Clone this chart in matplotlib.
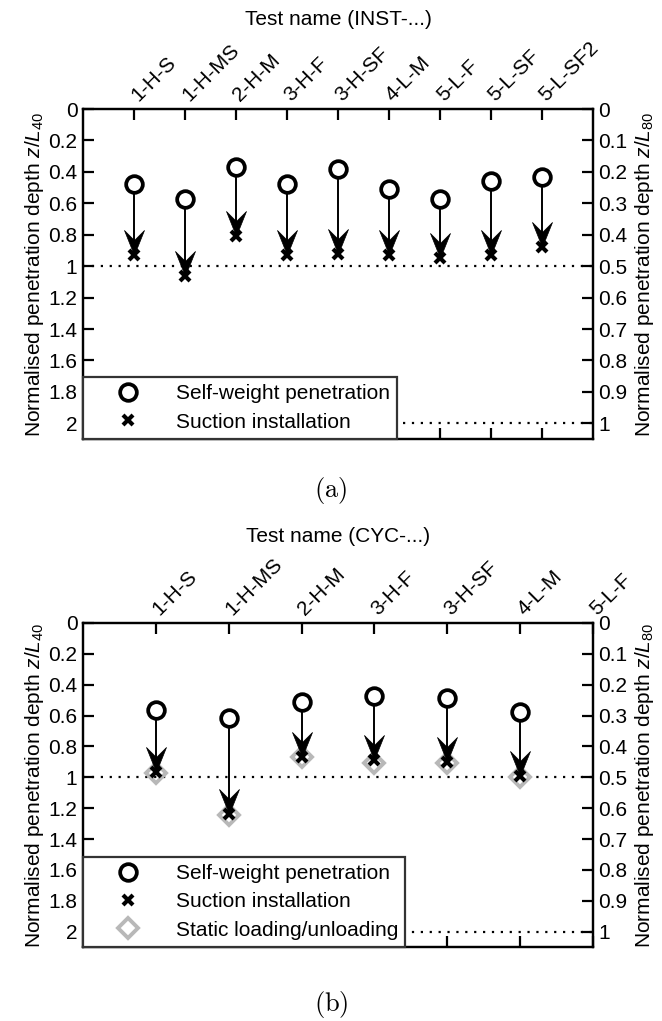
import matplotlib
matplotlib.use('Agg')
import matplotlib.pyplot as plt
import numpy as np
from matplotlib.path import Path
from matplotlib.lines import Line2D
from matplotlib.ticker import FormatStrFormatter

plt.rcParams['font.family'] = ['Liberation Sans', 'DejaVu Sans']
plt.rcParams['mathtext.fontset'] = 'custom'
plt.rcParams['mathtext.rm'] = 'Liberation Sans'
plt.rcParams['mathtext.it'] = 'Liberation Sans:italic'
plt.rcParams['font.size'] = 15

# (a) installation tests
tests_a = ['1-H-S', '1-H-MS', '2-H-M', '3-H-F', '3-H-SF', '4-L-M', '5-L-F', '5-L-SF', '5-L-SF2']
selfweight_a = [0.48, 0.57, 0.37, 0.48, 0.38, 0.51, 0.57, 0.46, 0.43]
suction_a = [0.93, 1.06, 0.81, 0.93, 0.92, 0.93, 0.95, 0.93, 0.88]

# (b) cyclic tests (5-L-F has no data)
tests_b = ['1-H-S', '1-H-MS', '2-H-M', '3-H-F', '3-H-SF', '4-L-M', '5-L-F']
selfweight_b = [0.565, 0.615, 0.515, 0.475, 0.485, 0.575]
suction_b = [0.965, 1.24, 0.87, 0.89, 0.90, 0.99]
static_b = [0.97, 1.245, 0.87, 0.905, 0.91, 1.0]

# stealth arrow head, tip at origin
head = Path([(0, 0), (-0.4, 1.0), (0, 0.6), (0.4, 1.0), (0, 0)],
            [Path.MOVETO, Path.LINETO, Path.LINETO, Path.LINETO, Path.CLOSEPOLY])

grey = '#b8b8b8'


def draw_panel(ax, tests, sw, suc, static, title):
    n = len(tests)
    xs = np.arange(1, n + 1)
    ax.set_xlim(0, n + 1 if n == 9 else n)
    ax.set_ylim(2.1, 0)

    ax.axhline(1, color='k', lw=1.6, ls=(0, (1, 3)), zorder=1)
    ax.axhline(2, color='k', lw=1.6, ls=(0, (1, 3)), zorder=1)

    for i in range(len(sw)):
        x = xs[i]
        if static is not None:
            ax.plot(x, static[i], marker='D', ms=10, mfc='none', mec=grey, mew=2.8, zorder=2)
        ax.plot([x, x], [sw[i], suc[i]], color='k', lw=1.4, zorder=3)
        ax.plot(x, suc[i], marker='x', ms=7, mec='k', mew=3, zorder=3)
        ax.plot(x, suc[i], marker=head, ms=36, mfc='k', mec='k', mew=0.5, zorder=4)
        ax.plot(x, sw[i], marker='o', ms=12, mfc='white', mec='k', mew=2.7, zorder=5)

    ax.set_yticks(np.arange(0, 2.01, 0.2))
    ax.yaxis.set_major_formatter(FormatStrFormatter('%g'))
    ax.set_xticks(xs)
    ax.set_xticklabels(tests, rotation=45, ha='left', va='center', rotation_mode='anchor')
    ax.xaxis.set_label_position('top')
    ax.set_xlabel(title, labelpad=9)
    ax.tick_params(axis='x', direction='in', top=True, bottom=True, labeltop=True,
                   labelbottom=False, length=8, width=1.6, pad=8)
    ax.tick_params(axis='y', direction='in', left=True, right=False, length=8, width=1.6, pad=4)
    ax.set_ylabel(r'Normalised penetration depth $\mathit{z/L_{40}}$', labelpad=2)
    for s in ax.spines.values():
        s.set_linewidth(1.6)

    ax2 = ax.twinx()
    ax2.set_ylim(1.05, 0)
    ax2.set_yticks(np.arange(0, 1.01, 0.1))
    ax2.yaxis.set_major_formatter(FormatStrFormatter('%g'))
    ax2.tick_params(axis='y', direction='in', length=8, width=1.6, pad=4)
    ax2.set_ylabel(r'Normalised penetration depth $\mathit{z/L_{80}}$', labelpad=4)
    for s in ax2.spines.values():
        s.set_linewidth(1.6)

    handles = [Line2D([], [], ls='none', marker='o', ms=12, mfc='white', mec='k', mew=2.7),
               Line2D([], [], ls='none', marker='x', ms=7, mec='k', mew=3)]
    labels = ['Self-weight penetration', 'Suction installation']
    if static is not None:
        handles.append(Line2D([], [], ls='none', marker='D', ms=10, mfc='none', mec=grey, mew=2.8))
        labels.append('Static loading/unloading')
    leg = ax2.legend(handles, labels, loc='lower left', bbox_to_anchor=(0, 0), borderaxespad=0,
                     fancybox=False, framealpha=1, edgecolor='#333333', fontsize=15,
                     handlelength=3.6, handletextpad=0.5, borderpad=0.35, labelspacing=0.45)
    leg.get_frame().set_linewidth(1.6)


fig = plt.figure(figsize=(6.62, 10.21), dpi=100)
ax_a = fig.add_axes([83 / 662, 1 - 439 / 1021, 510 / 662, 330 / 1021])
ax_b = fig.add_axes([83 / 662, 1 - 947 / 1021, 510 / 662, 324 / 1021])

draw_panel(ax_a, tests_a, selfweight_a, suction_a, None, 'Test name (INST-...)')
draw_panel(ax_b, tests_b, selfweight_b, suction_b, static_b, 'Test name (CYC-...)')

fig.text(0.5, 1 - 490 / 1021, r'$\mathrm{(a)}$', ha='center', va='center', fontsize=19, math_fontfamily='cm')
fig.text(0.5, 1 - 1004 / 1021, r'$\mathrm{(b)}$', ha='center', va='center', fontsize=19, math_fontfamily='cm')

fig.savefig('out.png', dpi=100)
